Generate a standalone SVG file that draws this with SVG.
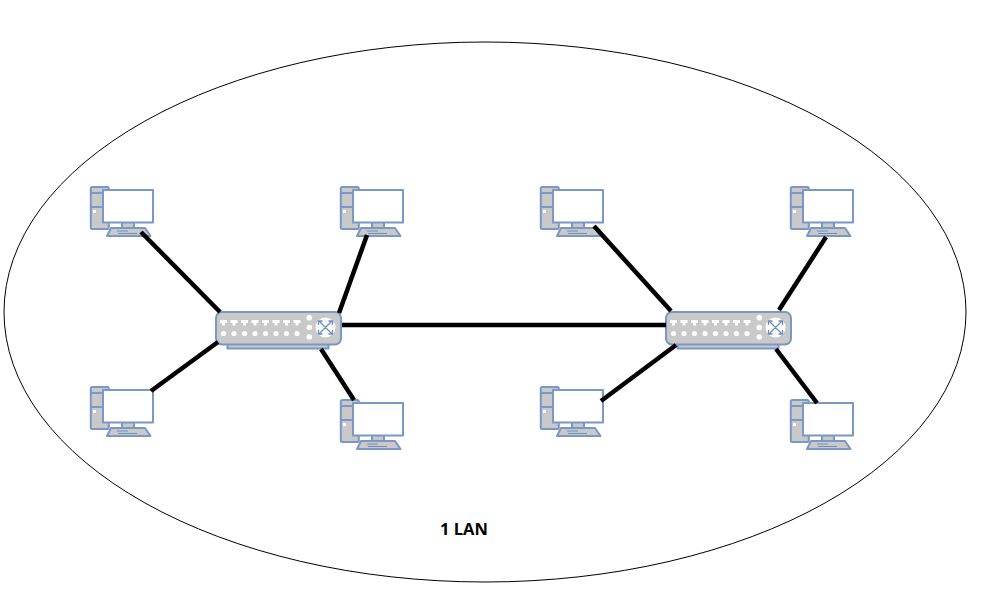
<svg xmlns="http://www.w3.org/2000/svg" xmlns:xlink="http://www.w3.org/1999/xlink" width="981" height="611" viewBox="0 0 981 611">
<style>
.b{stroke:#7b97c6;stroke-width:2;stroke-linejoin:round}
.g{fill:#c9c9c9}
.w{fill:#fff}
.c{stroke:#000;stroke-width:4.500;fill:none}
.d{fill:#fff;stroke:none}
.l{font:bold 16.500px "Open Sans","Liberation Sans",Arial,sans-serif;fill:#000}
</style>
<defs>
<symbol id="pc" overflow="visible" width="70" height="55" viewBox="0 0 70 55">
<rect class="b g" x="0.8" y="1" width="18" height="42" rx="1.500"/>
<path class="b" fill="none" d="M0.800 7H13M0.800 21H13"/>
<rect x="3" y="24" width="3" height="3" fill="#fff"/>
<rect class="b g" x="32" y="36" width="12" height="6"/>
<path class="b g" d="M21 42H55L60.500 50H17Z"/>
<path d="M27 45H38M28 47.500H47" stroke="#6c8ebf" stroke-width="1" fill="none"/>
<rect class="b w" x="13" y="4" width="50" height="32.500"/>
</symbol>
<symbol id="sw" overflow="visible" width="130" height="40" viewBox="0 0 130 40">
<rect class="b g" x="12.500" y="30" width="101" height="7.500"/>
<rect class="b g" x="1" y="1" width="125" height="32.500" rx="6"/>
<g class="d">
<path d="M5 9H12V12H10V14.500H7V12H5Z"/>
<path d="M15.500 9H22.500V12H20.500V14.500H17.500V12H15.500Z"/>
<path d="M26 9H33V12H31V14.500H28V12H26Z"/>
<path d="M36.500 9H43.500V12H41.500V14.500H38.500V12H36.500Z"/>
<path d="M47 9H54V12H52V14.500H49V12H47Z"/>
<path d="M57.500 9H64.500V12H62.500V14.500H59.500V12H57.500Z"/>
<path d="M68 9H75V12H73V14.500H70V12H68Z"/>
<path d="M78.500 9H85.500V12H83.500V14.500H80.500V12H78.500Z"/>
<circle cx="8.500" cy="22.500" r="2.600"/><circle cx="19" cy="22.500" r="2.600"/><circle cx="29.500" cy="22.500" r="2.600"/><circle cx="40" cy="22.500" r="2.600"/><circle cx="50.500" cy="22.500" r="2.600"/><circle cx="61" cy="22.500" r="2.600"/><circle cx="71.500" cy="22.500" r="2.600"/><circle cx="82" cy="22.500" r="2.600"/>
<circle cx="94.300" cy="6.700" r="2.800"/><circle cx="94.300" cy="16.500" r="2.800"/><circle cx="94.300" cy="26" r="2.800"/>
<circle cx="110.500" cy="16.500" r="10"/>
</g>
<path d="M104.500 10.500L116.500 22.500M116.500 10.500L104.500 22.500M103.500 14V10H107.500M113.500 10H117.500V14M103.500 19V23H107.500M113.500 23H117.500V19" stroke="#6c8ebf" stroke-width="1.300" fill="none"/>
</symbol>
</defs>
<ellipse id="lan" cx="485" cy="312" rx="481" ry="270" fill="#fff" stroke="#000" stroke-width="1"/>
<g id="pc1"><use xlink:href="#pc" href="#pc" x="90" y="186"/></g>
<g id="pc2"><use xlink:href="#pc" href="#pc" x="340" y="186"/></g>
<g id="pc3"><use xlink:href="#pc" href="#pc" x="90" y="386"/></g>
<g id="pc4"><use xlink:href="#pc" href="#pc" x="340" y="399"/></g>
<g id="pc5"><use xlink:href="#pc" href="#pc" x="540" y="186"/></g>
<g id="pc6"><use xlink:href="#pc" href="#pc" x="790" y="186"/></g>
<g id="pc7"><use xlink:href="#pc" href="#pc" x="540" y="386"/></g>
<g id="pc8"><use xlink:href="#pc" href="#pc" x="790" y="399"/></g>
<g id="switch1"><use xlink:href="#sw" href="#sw" x="215" y="311"/></g>
<g id="switch2"><use xlink:href="#sw" href="#sw" x="665" y="311"/></g>
<g id="connectors">
<path class="c" d="M141 232L220 312"/>
<path class="c" d="M367 235L339 313"/>
<path class="c" d="M151 391L218 342"/>
<path class="c" d="M321 349L354 400"/>
<path class="c" d="M342 325H666"/>
<path class="c" d="M594 226L671 311"/>
<path class="c" d="M826 237L779 310"/>
<path class="c" d="M601 401L676 345"/>
<path class="c" d="M776 349L817 403"/>
</g>
<text class="l" x="440" y="535">1 LAN</text>
</svg>
